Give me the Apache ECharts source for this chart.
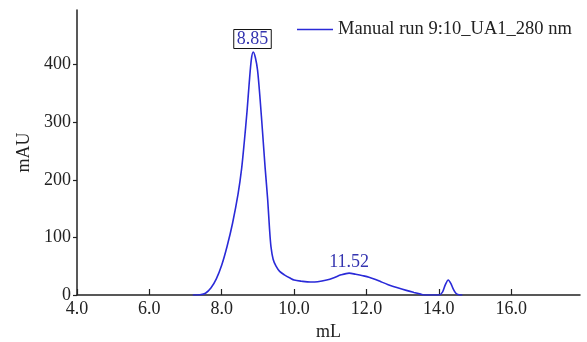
<!DOCTYPE html>
<html><head><meta charset="utf-8">
<script src="https://cdn.jsdelivr.net/npm/echarts@6/dist/echarts.min.js"></script>
<style>html,body{margin:0;padding:0;background:#fff}#c{width:587px;height:342px}</style>
</head><body><div id="c"></div>
<script>
const volume = [7.2,7.4,7.55,7.7,7.85,8.0,8.15,8.3,8.45,8.55,8.62,8.7,8.76,8.82,8.87,8.93,8.99,9.06,9.13,9.2,9.27,9.32,9.36,9.42,9.5,9.6,9.73,9.9,10.0,10.2,10.45,10.65,10.9,11.1,11.3,11.52,11.7,11.9,12.07,12.25,12.4,12.6,12.86,13.1,13.31,13.5,13.6,14.0,14.1,14.18,14.26,14.33,14.4,14.47,14.55,14.65];
const absorbance = [0,0.5,3,12,28,52,85,125,175,220,264,320,369,410,422,412,390,340,281,220,165,115,84,62,50,41,35,29,26,24,22.5,23,26,30,35,38,36,33.5,31,27,23,18,12.5,8,4.5,1.5,0,0,5,18,26,20,10,3,0.5,0];
const xTicks = [4,6,8,10,12,14,16];
const yTicks = [0,100,200,300,400];
const peaks = [[8.85,422],[11.52,38]];
const seriesName = 'Manual run 9:10_UA1_280 nm';

const font = 'Liberation Serif';
const chart = echarts.init(document.getElementById('c'));
chart.setOption({
  animation:false,
  textStyle:{fontFamily:font},
  grid:{left:77,right:7,top:10,bottom:47,outerBoundsMode:'none',containLabel:false},
  legend:{left:292,top:15,itemWidth:36,itemHeight:14,itemGap:6,
    textStyle:{fontFamily:font,fontSize:18.5,color:'#222'},
    data:[{name:seriesName,icon:'path://M0,6 L34,6 L34,7.5 L0,7.5 Z'}]},
  xAxis:{type:'value',min:4,max:17.9,name:'mL',nameLocation:'middle',nameGap:27,
    nameTextStyle:{fontFamily:font,fontSize:18,color:'#222'},
    axisLine:{lineStyle:{color:'#222',width:1.5}},
    axisTick:{inside:true,length:6,lineStyle:{color:'#222',width:1.2},customValues:xTicks},
    axisLabel:{customValues:xTicks,fontFamily:font,fontSize:18,color:'#222',margin:5,formatter:v=>v.toFixed(1)},
    splitLine:{show:false}},
  yAxis:{type:'value',min:0,max:495,name:'mAU',nameLocation:'middle',nameGap:43,
    nameTextStyle:{fontFamily:font,fontSize:18,color:'#222'},
    axisLine:{show:true,lineStyle:{color:'#222',width:1.5}},
    axisTick:{show:true,length:4,lineStyle:{color:'#222',width:1.2},customValues:yTicks},
    axisLabel:{customValues:yTicks,fontFamily:font,fontSize:18,color:'#222',margin:6},
    splitLine:{show:false}},
  series:[{name:seriesName,type:'line',showSymbol:false,smooth:0.3,
    data:volume.map((v,i)=>[v,absorbance[i]]),
    lineStyle:{color:'#2a2ad8',width:1.6},itemStyle:{color:'#2a2ad8'},
    markPoint:{symbol:'circle',symbolSize:1,itemStyle:{color:'rgba(0,0,0,0)'},
      label:{show:true,position:'top',fontFamily:font,fontSize:18,color:'#3434b0'},
      data:[
        {coord:peaks[0],value:peaks[0][0].toFixed(2),label:{distance:3,borderColor:'#111',borderWidth:1,padding:[1,3,0,3],formatter:'{c}'}},
        {coord:peaks[1],value:peaks[1][0].toFixed(2),label:{distance:1,formatter:'{c}'}}
      ]}
  }]
});
</script></body></html>
